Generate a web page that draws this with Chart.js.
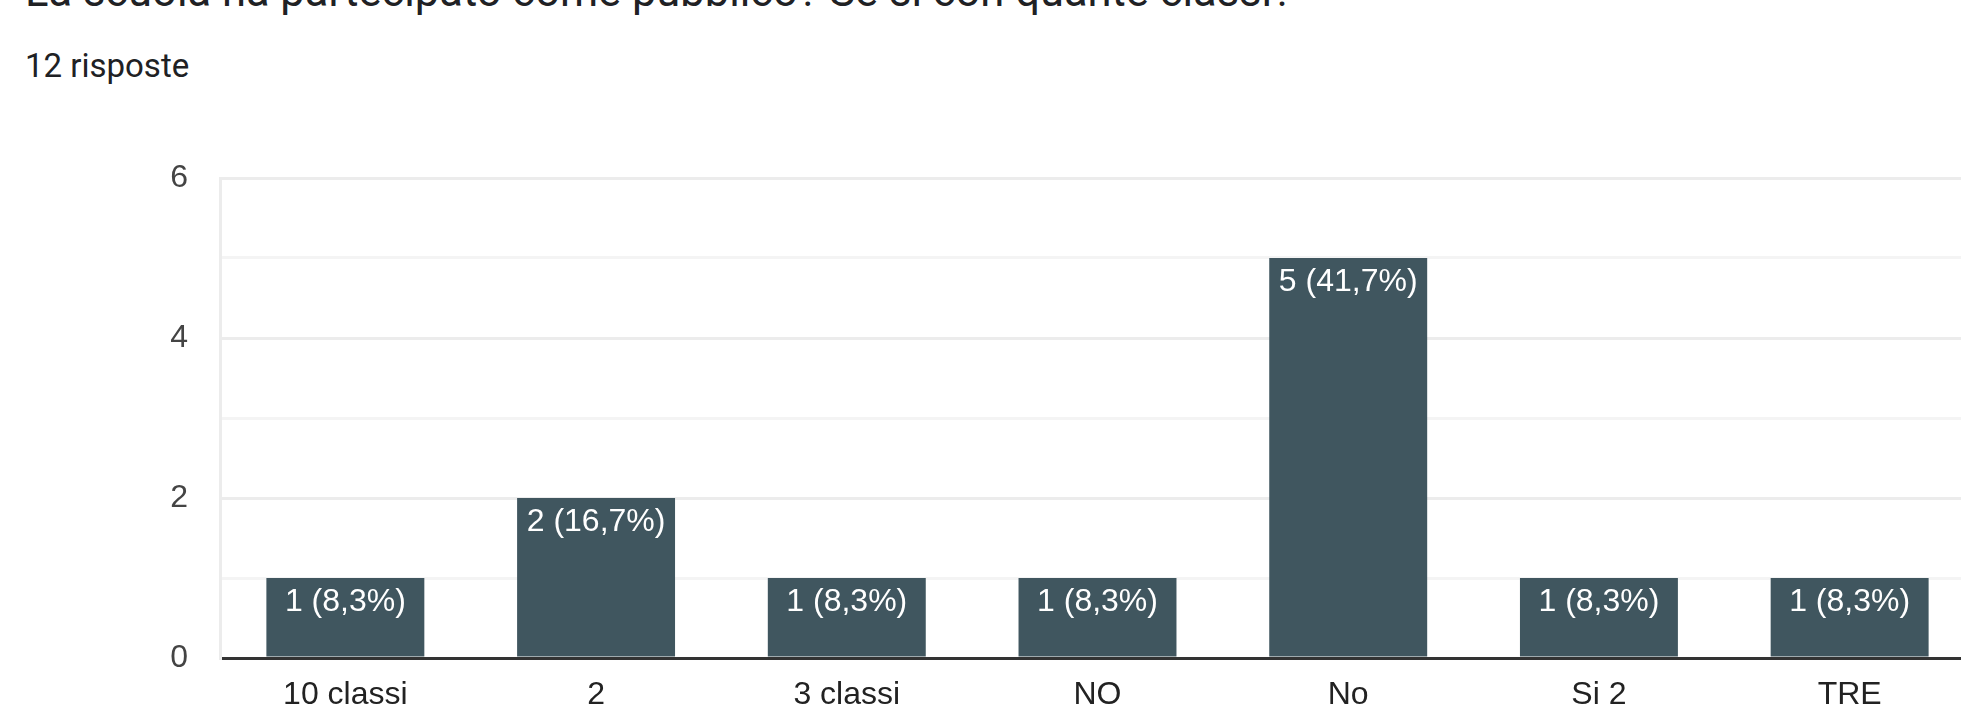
<!DOCTYPE html>
<html>
<head>
<meta charset="utf-8">
<script src="https://cdn.jsdelivr.net/npm/chart.js@4.4.1/dist/chart.umd.min.js"></script>
<style>
  html, body { margin: 0; padding: 0; background: #fff; overflow: hidden; width: 1961px; height: 707px; }
  #title { position: absolute; left: 25px; top: -34px; font-family: Roboto, sans-serif; font-size: 43.5px; color: #202124; white-space: nowrap; }
  #sub { position: absolute; left: 25px; top: 46px; font-family: Roboto, sans-serif; font-size: 33px; color: #202124; }
  #wrap { position: absolute; left: 0; top: 150px; width: 1975px; height: 557px; }
</style>
</head>
<body>
<div id="title">La scuola ha partecipato come pubblico? Se si con quante classi?</div>
<div id="sub">12 risposte</div>
<div id="wrap"><canvas id="chart"></canvas></div>
<script>
const categories = ['10 classi', '2', '3 classi', 'NO', 'No', 'Si 2', 'TRE'];
const counts = [1, 2, 1, 1, 5, 1, 1];
const yTicks = [0, 2, 4, 6];

const total = counts.reduce((s, v) => s + v, 0);

// label drawn at the top inside each bar: "1 (8,3%)"
const barLabels = {
    id: 'barLabels',
    afterDatasetsDraw(chart) {
        const ctx = chart.ctx;
        const meta = chart.getDatasetMeta(0);
        ctx.save();
        ctx.font = '32px "Liberation Sans", Arial, sans-serif';
        ctx.fillStyle = '#ffffff';
        ctx.textAlign = 'center';
        ctx.textBaseline = 'middle';
        meta.data.forEach((bar, i) => {
            const pct = (counts[i] / total * 100).toFixed(1).replace('.', ',');
            ctx.fillText(counts[i] + ' (' + pct + '%)', bar.x, bar.y + 24);
        });
        ctx.restore();
    }
};

const font = { family: '"Liberation Sans", Arial, sans-serif', size: 32 };

new Chart(document.getElementById('chart'), {
    type: 'bar',
    data: {
        labels: categories,
        datasets: [{
            data: counts,
            backgroundColor: '#40565f',
            barPercentage: 0.63,
            categoryPercentage: 1
        }]
    },
    options: {
        responsive: true,
        maintainAspectRatio: false,
        animation: false,
        layout: { padding: { top: 28, left: 0, right: 0, bottom: 0 } },
        plugins: { legend: { display: false }, tooltip: { enabled: false } },
        scales: {
            x: {
                grid: { display: false },
                border: { color: '#333333', width: 3 },
                ticks: { color: '#222222', font: font, padding: 10 },
                afterFit: (s) => { s.height = 49; }
            },
            y: {
                min: 0,
                max: 6,
                ticks: {
                    stepSize: 1,
                    color: '#444444',
                    font: font,
                    padding: 32,
                    callback: (v) => yTicks.includes(v) ? v : ''
                },
                grid: {
                    color: (c) => c.tick && c.tick.value % 2 === 0 ? '#ececec' : '#f4f4f4',
                    lineWidth: 3,
                    drawTicks: false
                },
                border: { color: '#ececec', width: 3 },
                afterFit: (s) => {
                    s.width = 220;
                    // tick padding would otherwise push the plot area in
                    s.paddingTop = 0;
                    s.paddingBottom = 0;
                }
            }
        }
    },
    plugins: [barLabels]
});
</script>
</body>
</html>
